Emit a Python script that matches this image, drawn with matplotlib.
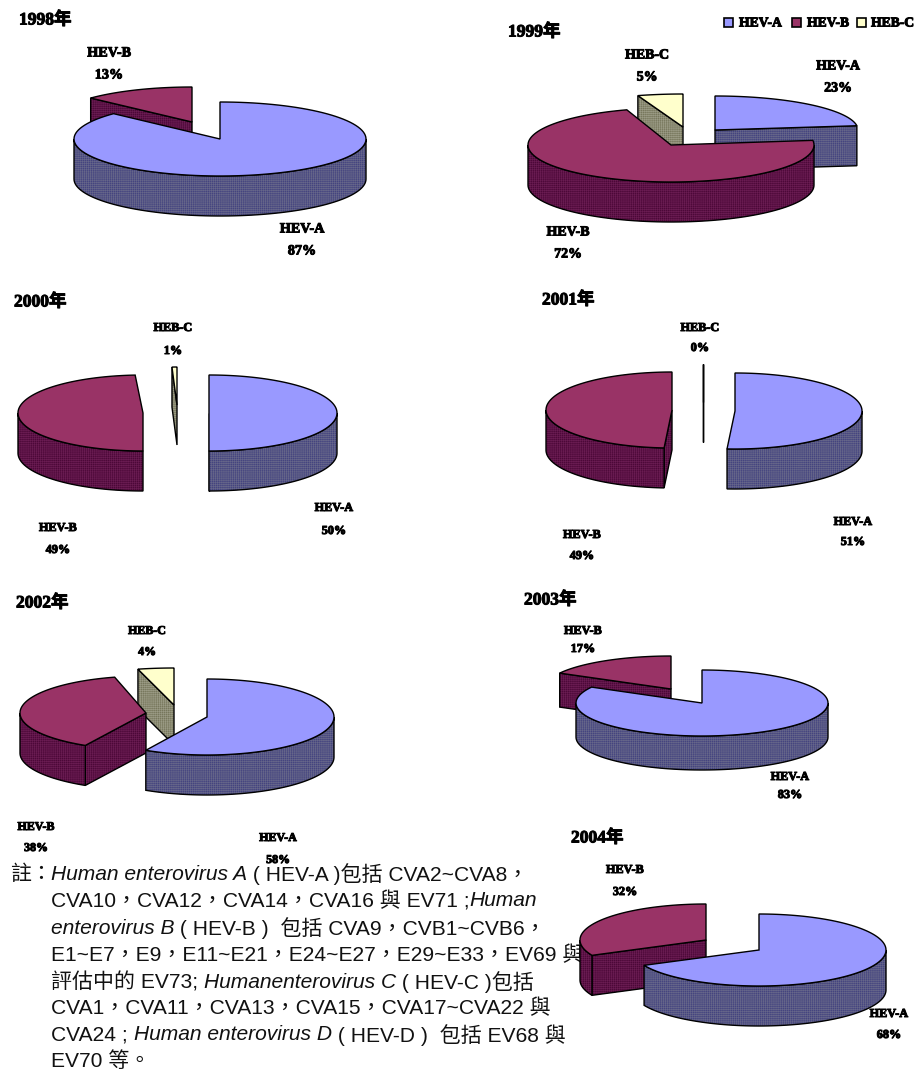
import numpy as np
import matplotlib
matplotlib.use("Agg")
import matplotlib.pyplot as plt
from matplotlib.patches import Polygon, Rectangle
import matplotlib.patheffects as pe

# Share of each enterovirus species per year (percent)
years = [1998, 1999, 2000, 2001, 2002, 2003, 2004]
hev_a = [87, 23, 50, 51, 58, 83, 68]
hev_b = [13, 72, 49, 49, 38, 17, 32]
hev_c = [None, 5, 1, 0, 4, None, None]
species_names = ["HEV-A", "HEV-B", "HEB-C"]

TOP = ["#9999FF", "#993366", "#FFFFCC"]
SIDE = ["#44447F", "#4C0838", "#77775C"]
DITHER = ["#66668A", "#6A1C52", "#9A9A84"]

SERIF = ["Liberation Serif", "Noto Sans CJK TC"]
SANS = ["Liberation Sans", "Noto Sans CJK TC"]

# Per-year layout in figure pixels: slice hubs, ellipse radii, wall depth,
# painting order and label anchors.
LAYOUT = {
    1998: dict(hub=[(220, 139), (192, 122), None], r=[(146, 37), (139, 35), None], depth=40,
               order=[1, 0], fs=10.2, title=(19, 20),
               lab=[(302, 229, 251), (109, 53, 75), None]),
    1999: dict(hub=[(715, 130), (671, 145), (683, 127)], r=[(143, 34), (143, 37), (146, 33)], depth=40,
               order=[2, 0, 1], fs=10.0, title=(508, 32),
               lab=[(838, 66, 88), (568, 232, 254), (647, 55, 77)]),
    2000: dict(hub=[(209, 413), (143, 413), (177, 405)], r=[(128, 38), (125, 38), (80, 38)], depth=40,
               order=[2, 0, 1], fs=8.8, title=(14, 302),
               lab=[(334, 508, 531), (58, 528, 550), (173, 328, 351)]),
    2001: dict(hub=[(735, 411), (672, 410), (703, 402)], r=[(127, 38), (126, 38), (127, 38)], depth=40,
               order=[2, 0, 1], fs=8.8, title=(542, 300),
               lab=[(853, 522, 542), (582, 535, 556), (700, 328, 348)]),
    2002: dict(hub=[(207, 717), (146, 713), (174, 705)], r=[(127, 38), (126, 37), (145, 37)], depth=40,
               order=[2, 1, 0], fs=8.6, title=(16, 603),
               lab=[(278, 838, 860), (36, 827, 848), (147, 631, 652)]),
    2003: dict(hub=[(702, 703), (671, 689), None], r=[(126, 33), (127, 33), None], depth=34,
               order=[1, 0], fs=8.8, title=(524, 600),
               lab=[(790, 777, 795), (583, 631, 649), None]),
    2004: dict(hub=[(759, 950), (706, 940), None], r=[(127, 36), (126, 36), None], depth=40,
               order=[1, 0], fs=8.8, title=(571, 838),
               lab=[(889, 1014, 1035), (625, 870, 892), None]),
}

# Footnote: each line is a list of (text, italic) runs
NOTE_LINES = [
    [("Human enterovirus A", True), (" ( HEV-A )包括 CVA2~CVA8，", False)],
    [("CVA10，CVA12，CVA14，CVA16 與 EV71 ;", False), ("Human", True)],
    [("enterovirus B", True), (" ( HEV-B )  包括 CVA9，CVB1~CVB6，", False)],
    [("E1~E7，E9，E11~E21，E24~E27，E29~E33，EV69 與", False)],
    [("評估中的 EV73; ", False), ("Humanenterovirus C", True), (" ( HEV-C )包括", False)],
    [("CVA1，CVA11，CVA13，CVA15，CVA17~CVA22 與", False)],
    [("CVA24 ; ", False), ("Human enterovirus D", True), (" ( HEV-D )  包括 EV68 與", False)],
    [("EV70 等。", False)],
]
NOTE_Y = [874, 901, 928, 955, 982, 1008, 1035, 1061]
NOTE_SIZE = 15.1

plt.rcParams["hatch.linewidth"] = 0.45

fig = plt.figure(figsize=(9.16, 10.72), dpi=100, facecolor="white")
ax = fig.add_axes([0, 0, 1, 1])
ax.set_xlim(0, 916)
ax.set_ylim(1072, 0)
ax.axis("off")


def rim(hub, radii, theta):
    """Rim points of a flattened pie; theta runs clockwise from twelve o'clock."""
    t = np.radians(theta)
    return np.column_stack([hub[0] + radii[0] * np.sin(t), hub[1] - radii[1] * np.cos(t)])


def shaded(points, idx, z):
    """Extruded face: solid base, fine dither, black outline."""
    ax.add_patch(Polygon(points, closed=True, facecolor=SIDE[idx], edgecolor=DITHER[idx],
                         hatch="++++++++", linewidth=0, zorder=z))
    ax.add_patch(Polygon(points, closed=True, fill=False, edgecolor="black", linewidth=1.0, zorder=z))


def draw_slice(hub, radii, depth, a0, a1, idx, z):
    hub_pt = np.array(hub, dtype=float)
    down = np.array([0, depth])
    # A cut face shows only when it turns toward the viewer
    for a, visible in ((a0, np.sin(np.radians(a0)) < 0), (a1, np.sin(np.radians(a1)) > 0)):
        if visible:
            p = rim(hub, radii, a)[0]
            shaded(np.array([hub_pt, p, p + down, hub_pt + down]), idx, z)
    lo, hi = max(a0, 90), min(a1, 270)
    if hi > lo:
        arc = rim(hub, radii, np.linspace(lo, hi, 80))
        shaded(np.vstack([arc, (arc + down)[::-1]]), idx, z)
    top = np.vstack([hub_pt, rim(hub, radii, np.linspace(a0, a1, 120))])
    ax.add_patch(Polygon(top, closed=True, facecolor=TOP[idx], edgecolor="black", linewidth=1.0, zorder=z))


def blurry_text(x, y, s, size, ha="center", z=6):
    t = ax.text(x, y, s, family=SERIF, fontweight="bold", fontsize=size, ha=ha, va="center",
                color="black", zorder=z)
    t.set_path_effects([pe.Stroke(linewidth=0.7, foreground="black"), pe.Normal()])
    return t


# Footnote sits beneath the pies
renderer = fig.canvas.get_renderer()
ax.text(10, NOTE_Y[0], "註：", family=SANS, fontsize=NOTE_SIZE, va="center", color="#111111", zorder=1)
for runs, y in zip(NOTE_LINES, NOTE_Y):
    x = 51
    for s, italic in runs:
        t = ax.text(x, y, s, family=SANS, fontsize=NOTE_SIZE, style="italic" if italic else "normal",
                    va="center", color="#111111", zorder=1)
        x += t.get_window_extent(renderer).width

# The pies
for i, year in enumerate(years):
    cfg = LAYOUT[year]
    shares = [hev_a[i], hev_b[i], hev_c[i]]
    edges = np.cumsum([0] + [v if v is not None else 0 for v in shares]) * 3.6
    for k, idx in enumerate(cfg["order"]):
        draw_slice(cfg["hub"][idx], cfg["r"][idx], cfg["depth"], edges[idx], edges[idx + 1], idx, 2 + k * 0.1)
    for idx, anchor in enumerate(cfg["lab"]):
        if anchor is None:
            continue
        blurry_text(anchor[0], anchor[1], species_names[idx], cfg["fs"])
        blurry_text(anchor[0], anchor[2], f"{shares[idx]}%", cfg["fs"])
    blurry_text(cfg["title"][0], cfg["title"][1], f"{year}年", 12.6, ha="left")

# Legend in the top right corner
for idx, (sx, tx) in enumerate([(724, 739), (792, 807), (857, 871)]):
    ax.add_patch(Rectangle((sx, 18), 9, 9, facecolor=TOP[idx], edgecolor="black", linewidth=1.2, zorder=5))
    blurry_text(tx, 23, species_names[idx], 9.8, ha="left")

fig.savefig("out.png", dpi=100, facecolor="white")
